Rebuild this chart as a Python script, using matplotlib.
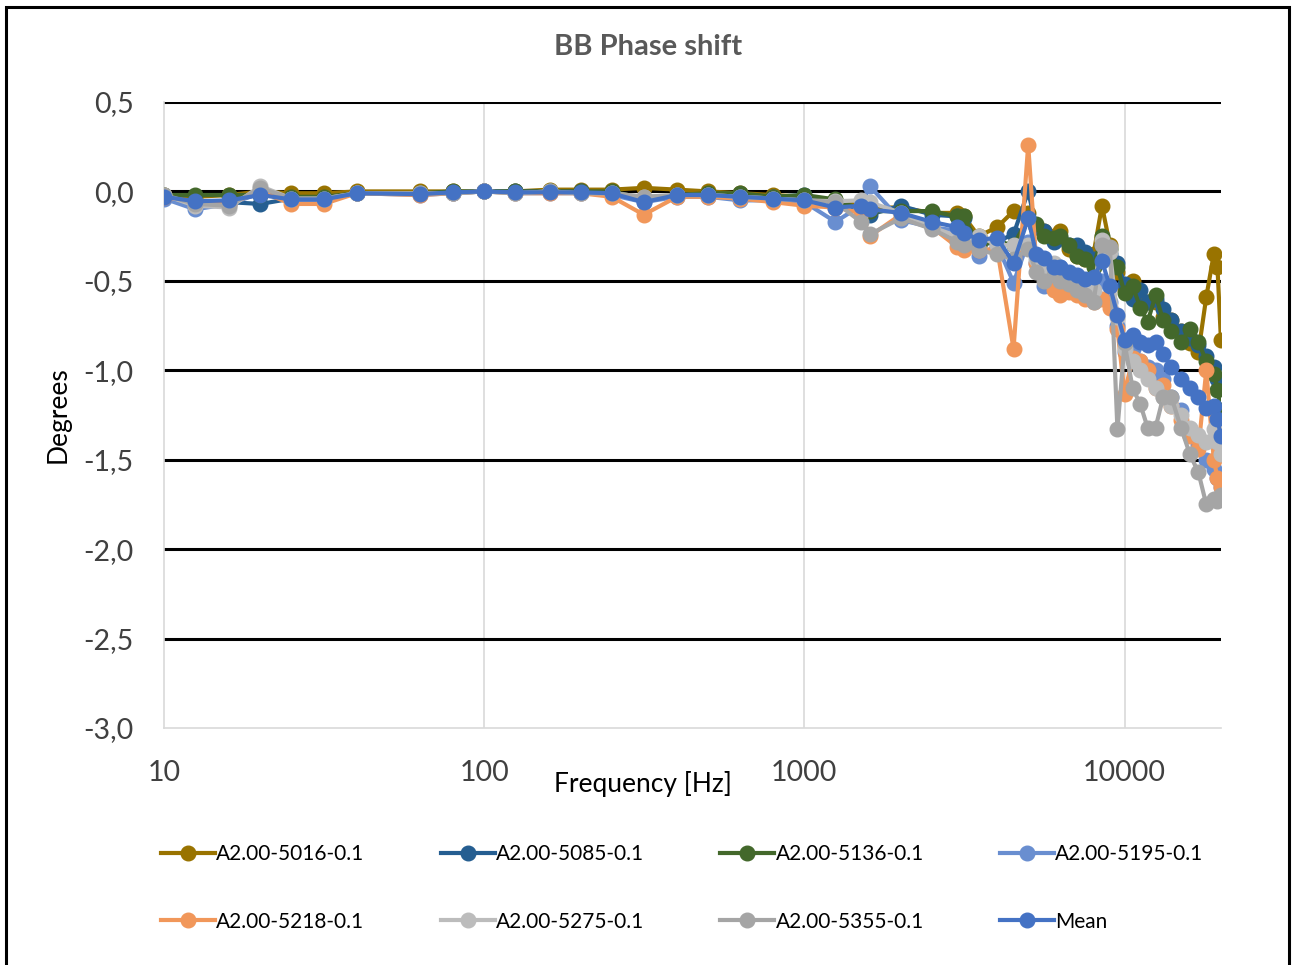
import matplotlib
matplotlib.use("Agg")
import matplotlib.pyplot as plt
from matplotlib.patches import Rectangle

plt.rcParams['font.family'] = ['Lato', 'DejaVu Sans']

# frequency grid [Hz]
freq = [10, 12.5, 16, 20, 25, 31.5, 40, 63, 80, 100, 125, 160, 200, 250, 315, 400, 500, 630, 800, 1000,
        1250, 1500, 1600, 2000, 2500, 3000, 3150, 3500, 4000, 4500, 5000, 5300, 5600, 6000, 6300, 6700,
        7100, 7500, 8000, 8500, 9000, 9500, 10000, 10600, 11200, 11800, 12500, 13200, 14000, 15000,
        16000, 17000, 18000, 19000, 19500, 20000]

# phase shift [degrees]
s5016 = [-0.02, -0.03, -0.02, 0.0, -0.01, -0.01, 0.0, 0.0, 0.0, 0.0, 0.0, 0.01, 0.01, 0.01, 0.02, 0.01, 0.0, -0.01, -0.02, -0.03,
         -0.05, -0.07, -0.09, -0.09, -0.12, -0.12, -0.14, -0.25, -0.20, -0.11, -0.12, -0.20, -0.22, -0.25, -0.22, -0.32,
         -0.36, -0.38, -0.35, -0.08, -0.30, -0.45, -0.55, -0.50, -0.60, -0.62, -0.62, -0.70, -0.72, -0.78,
         -0.85, -0.90, -0.59, -0.35, -0.42, -0.83]
s5085 = [-0.03, -0.06, -0.06, -0.07, -0.04, -0.04, -0.01, -0.01, -0.01, 0.0, 0.0, 0.0, 0.0, -0.01, -0.05, -0.02, -0.02, -0.02, -0.03, -0.02,
         -0.06, -0.10, -0.13, -0.08, -0.13, -0.14, -0.15, -0.30, -0.28, -0.24, 0.0, -0.20, -0.22, -0.28, -0.26, -0.30,
         -0.30, -0.34, -0.38, -0.30, -0.35, -0.40, -0.52, -0.60, -0.55, -0.62, -0.60, -0.66, -0.72, -0.78,
         -0.82, -0.86, -0.92, -0.98, -1.05, -1.09]
s5136 = [-0.02, -0.02, -0.02, -0.02, -0.03, -0.03, -0.01, -0.01, 0.0, 0.0, 0.0, 0.0, 0.0, 0.0, -0.04, -0.02, -0.01, -0.01, -0.03, -0.02,
         -0.045, -0.10, -0.11, -0.11, -0.11, -0.14, -0.14, -0.30, -0.28, -0.30, -0.15, -0.18, -0.25, -0.26, -0.25, -0.30,
         -0.36, -0.38, -0.42, -0.25, -0.32, -0.42, -0.57, -0.53, -0.65, -0.73, -0.58, -0.72, -0.78, -0.84,
         -0.77, -0.84, -0.95, -1.02, -1.11, -1.22]
s5195 = [-0.04, -0.10, -0.07, -0.01, -0.05, -0.05, -0.01, -0.02, -0.01, 0.0, -0.01, -0.01, -0.01, -0.02, -0.06, -0.03, -0.03, -0.05, -0.05, -0.06,
         -0.17, -0.08, 0.03, -0.16, -0.20, -0.22, -0.25, -0.36, -0.30, -0.51, -0.28, -0.40, -0.53, -0.44, -0.42, -0.48,
         -0.50, -0.55, -0.58, -0.50, -0.62, -0.75, -0.90, -0.88, -0.95, -0.98, -1.00, -1.05, -1.15, -1.22,
         -1.33, -1.42, -1.50, -1.55, -1.60, -1.65]
s5218 = [-0.03, -0.06, -0.07, 0.0, -0.07, -0.07, -0.01, -0.02, -0.01, 0.0, -0.01, -0.01, -0.01, -0.03, -0.13, -0.03, -0.03, -0.04, -0.06, -0.08,
         -0.09, -0.12, -0.25, -0.13, -0.20, -0.31, -0.33, -0.33, -0.32, -0.88, 0.26, -0.40, -0.48, -0.55, -0.58, -0.56,
         -0.58, -0.60, -0.62, -0.60, -0.65, -0.77, -1.13, -0.93, -0.95, -1.00, -1.10, -1.08, -1.20, -1.28,
         -1.37, -1.44, -1.00, -1.50, -1.60, -1.65]
s5275 = [-0.02, -0.08, -0.09, 0.03, -0.04, -0.04, -0.01, -0.01, -0.01, 0.0, -0.01, 0.0, -0.01, -0.01, -0.03, -0.02, -0.02, -0.03, -0.04, -0.05,
         -0.055, -0.05, -0.06, -0.12, -0.20, -0.25, -0.28, -0.25, -0.30, -0.30, -0.30, -0.38, -0.42, -0.40, -0.45, -0.47,
         -0.50, -0.53, -0.55, -0.27, -0.34, -0.70, -0.88, -0.95, -1.00, -1.05, -1.10, -1.15, -1.20, -1.25,
         -1.32, -1.36, -1.40, -1.33, -1.40, -1.47]
s5355 = [-0.02, -0.07, -0.08, 0.02, -0.04, -0.04, -0.01, -0.01, -0.01, 0.0, -0.01, 0.0, -0.01, -0.01, -0.03, -0.02, -0.02, -0.03, -0.04, -0.05,
         -0.06, -0.17, -0.24, -0.15, -0.21, -0.28, -0.30, -0.33, -0.35, -0.38, -0.32, -0.45, -0.50, -0.47, -0.50, -0.52,
         -0.55, -0.58, -0.62, -0.30, -0.31, -1.33, -0.85, -1.10, -1.19, -1.32, -1.32, -1.15, -1.15, -1.32,
         -1.47, -1.57, -1.75, -1.72, -1.73, -1.70]
mean = [-0.03, -0.055, -0.05, -0.02, -0.045, -0.045, -0.01, -0.015, -0.005, 0.0, -0.005, -0.005, -0.005, -0.01, -0.06, -0.02, -0.02, -0.03, -0.04, -0.05,
        -0.09, -0.08, -0.10, -0.12, -0.17, -0.20, -0.23, -0.27, -0.26, -0.40, -0.15, -0.35, -0.37, -0.42, -0.42, -0.45,
        -0.47, -0.49, -0.48, -0.39, -0.53, -0.69, -0.83, -0.80, -0.84, -0.86, -0.84, -0.91, -0.98, -1.05,
        -1.10, -1.15, -1.21, -1.20, -1.27, -1.37]

labels = ['A2.00-5016-0.1', 'A2.00-5085-0.1', 'A2.00-5136-0.1', 'A2.00-5195-0.1',
          'A2.00-5218-0.1', 'A2.00-5275-0.1', 'A2.00-5355-0.1', 'Mean']
series = [s5016, s5085, s5136, s5195, s5218, s5275, s5355, mean]
colors = ['#997300', '#255E91', '#43682B', '#698ED0', '#F1975A', '#BCBCBC', '#A5A5A5', '#4472C4']

yticks = [0.5, 0.0, -0.5, -1.0, -1.5, -2.0, -2.5, -3.0]

fig = plt.figure(figsize=(12.92, 9.65), dpi=100)
ax = fig.add_axes([0.127, 0.2456, 0.818, 0.6487])

handles = []
for vals, lab, col in zip(series, labels, colors):
    h, = ax.plot(freq, vals, color=col, lw=3, marker='o', ms=10.5, label=lab, zorder=3)
    handles.append(h)

ax.set_xscale('log')
ax.set_xlim(10, 20000)
ax.set_ylim(-3.0, 0.5)
ax.set_xticks([10, 100, 1000, 10000])
ax.set_xticklabels(['10', '100', '1000', '10000'])
ax.minorticks_off()
ax.set_yticks(yticks)
ax.set_yticklabels([f'{v:.1f}'.replace('.', ',') for v in yticks])
ax.tick_params(length=0, labelsize=20.5, labelcolor='#404040')
ax.tick_params(axis='x', pad=23)
ax.tick_params(axis='y', pad=22)

# grid: grey verticals, black horizontals
for xv in [100, 1000, 10000]:
    ax.axvline(xv, color='#D9D9D9', lw=1.2, zorder=1)
for yv in yticks[:-1]:
    ax.axhline(yv, color='black', lw=2.2, zorder=2)
for side in ['top', 'right']:
    ax.spines[side].set_visible(False)
ax.spines['left'].set_color('#D9D9D9')
ax.spines['bottom'].set_color('#D9D9D9')
ax.spines['left'].set_linewidth(1.2)
ax.spines['bottom'].set_linewidth(1.2)

fig.text(0.498, 0.1876, 'Frequency [Hz]', ha='center', va='center', fontsize=19)
fig.text(0.045, 0.57, 'Degrees', ha='center', va='center', rotation=90, fontsize=19)
fig.text(0.5015, 0.951, 'BB Phase shift', ha='center', va='center', fontsize=21,
         fontweight='bold', color='#595959')

order = [0, 4, 1, 5, 2, 6, 3, 7]
fig.legend([handles[i] for i in order], [labels[i] for i in order], ncol=4,
           loc='center left', bbox_to_anchor=(0.118, 0.03, 0.82, 0.1), mode='expand',
           frameon=False, fontsize=15, handlelength=2.6, handletextpad=0.05,
           labelspacing=2.3, borderaxespad=0)

fig.patches.append(Rectangle((0.005, -0.01), 0.993, 1.003, transform=fig.transFigure,
                             fill=False, edgecolor='black', lw=2.2))

fig.savefig('out.png', dpi=100)
